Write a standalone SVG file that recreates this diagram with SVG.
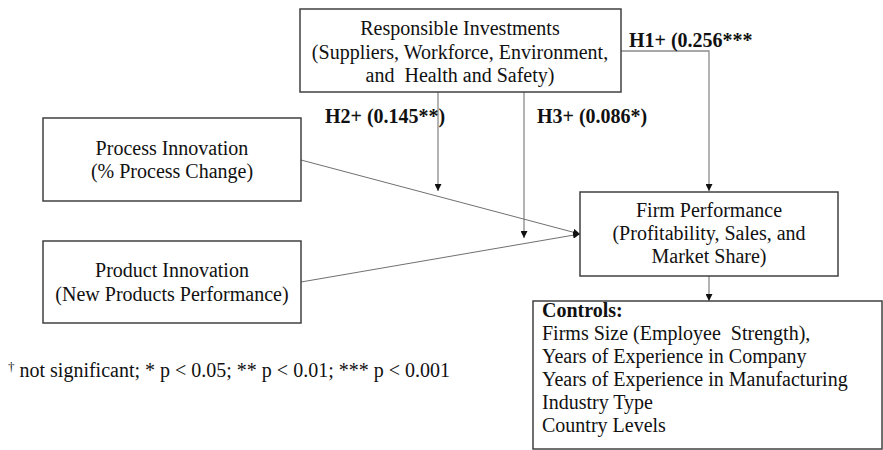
<svg xmlns="http://www.w3.org/2000/svg" width="883" height="450" viewBox="0 0 883 450">
<defs>
<style>
.box{fill:#fff;stroke:#404040;stroke-width:1.5}
.t{font-family:"Liberation Serif","Times New Roman",serif;font-size:20px;fill:#111}
.c{text-anchor:middle}
.b{font-weight:bold}
.ln{fill:none;stroke:#8a8a8a;stroke-width:1.3}
.ln2{fill:none;stroke:#707070;stroke-width:1}
</style>
<marker id="ah" viewBox="0 0 10 10" refX="10" refY="5" markerWidth="7" markerHeight="7" markerUnits="userSpaceOnUse" orient="auto">
<path d="M0,0 L10,5 L0,10 z" fill="#111"/>
</marker>
</defs>
<rect width="883" height="450" fill="#fff"/>
<g id="connectors">
<polyline class="ln" points="621,51 709,51 709,191" marker-end="url(#ah)"/>
<line class="ln" x1="438" y1="92" x2="438" y2="191" marker-end="url(#ah)"/>
<line class="ln" x1="524" y1="92" x2="524" y2="238" marker-end="url(#ah)"/>
<line class="ln2" x1="301" y1="160" x2="580" y2="234" marker-end="url(#ah)"/>
<line class="ln2" x1="301" y1="282" x2="580" y2="234" marker-end="url(#ah)"/>
<line class="ln" x1="709" y1="276" x2="709" y2="301" marker-end="url(#ah)"/>
<text class="t b" x="629" y="47">H1+ (0.256***</text>
<text class="t b" x="325" y="123">H2+ (0.145**)</text>
<text class="t b" x="537" y="123">H3+ (0.086*)</text>
</g>
<g id="responsible">
<rect class="box" x="300" y="9" width="321" height="83"/>
<text class="t c" x="460" y="35">Responsible Investments</text>
<text class="t c" x="460" y="59">(Suppliers, Workforce, Environment,</text>
<text class="t c" x="460" y="82" xml:space="preserve">and  Health and Safety)</text>
</g>
<g id="process">
<rect class="box" x="43" y="118" width="258" height="83"/>
<text class="t c" x="172" y="155">Process Innovation</text>
<text class="t c" x="172" y="178">(% Process Change)</text>
</g>
<g id="product">
<rect class="box" x="43" y="241" width="258" height="82"/>
<text class="t c" x="172" y="277">Product Innovation</text>
<text class="t c" x="172" y="301">(New Products Performance)</text>
</g>
<g id="firm">
<rect class="box" x="580" y="192" width="258" height="84"/>
<text class="t c" x="709" y="217">Firm Performance</text>
<text class="t c" x="709" y="240">(Profitability, Sales, and</text>
<text class="t c" x="709" y="263">Market Share)</text>
</g>
<g id="controls">
<rect class="box" x="533" y="301" width="349" height="148"/>
<text class="t b" x="542" y="317">Controls:</text>
<text class="t" x="542" y="340" xml:space="preserve">Firms Size (Employee  Strength),</text>
<text class="t" x="542" y="363">Years of Experience in Company</text>
<text class="t" x="542" y="386">Years of Experience in Manufacturing</text>
<text class="t" x="542" y="409">Industry Type</text>
<text class="t" x="542" y="432">Country Levels</text>
</g>
<g id="footnote">
<text class="t" x="8" y="377"><tspan font-size="13" dy="-6">†</tspan><tspan dy="6"> not significant; * p &lt; 0.05; ** p &lt; 0.01; *** p &lt; 0.001</tspan></text>
</g>
</svg>
